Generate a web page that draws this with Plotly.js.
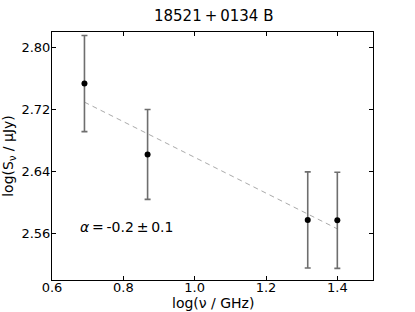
<!DOCTYPE html>
<html><head><meta charset="utf-8">
<script src="https://cdn.plot.ly/plotly-3.0.1.min.js"></script>
<style>html,body{margin:0;padding:0;background:#fff}</style>
</head><body><div id="chart" style="width:415px;height:312px"></div>
<script>
const logFreq = [0.691, 0.868, 1.317, 1.400];
const logFlux = [2.7535, 2.662, 2.5775, 2.577];
const fluxErr = [0.062, 0.058, 0.062, 0.062];
const fitX = [0.691, 1.400];
const fitY = [2.7295, 2.566];
const xTicks = [0.6, 0.8, 1.0, 1.2, 1.4];
const xTickText = ['0.6', '0.8', '1.0', '1.2', '1.4'];
const yTicks = [2.56, 2.64, 2.72, 2.80];
const yTickText = ['2.56', '2.64', '2.72', '2.80'];
const xTitle = 'log(ν / GHz)';

const fam = 'DejaVu Sans, sans-serif';
const tickFont = {family: fam, size: 13, color: '#000'};
const titleFont = {family: fam, size: 14, color: '#000'};
const traces = [
  {x: fitX, y: fitY, mode: 'lines', line: {color: '#aaaaaa', width: 1, dash: '5px,4px'}, hoverinfo: 'skip'},
  {x: logFreq, y: logFlux, mode: 'markers', marker: {color: '#000', size: 6},
   error_y: {type: 'data', array: fluxErr, visible: true, color: '#6e6e6e', thickness: 1.6, width: 3}}
];
const axisCommon = {showgrid: false, zeroline: false, showline: true, mirror: 'allticks', linecolor: '#000', linewidth: 1,
  ticks: 'inside', ticklen: 4, tickcolor: '#000', tickfont: tickFont, automargin: false};
const layout = {
  width: 415, height: 312, showlegend: false,
  margin: {l: 52, r: 42, t: 32, b: 32},
  paper_bgcolor: '#fff', plot_bgcolor: '#fff',
  title: {text: '18521\u2009+\u20090134 B', font: {family: fam, size: 15, color: '#000'}, x: 0.515, xanchor: 'center', y: 0.95, yanchor: 'middle'},
  xaxis: Object.assign({}, axisCommon, {range: [0.6, 1.5], tickvals: xTicks, ticktext: xTickText, ticklabelstandoff: -5}),
  yaxis: Object.assign({}, axisCommon, {range: [2.50, 2.82], tickvals: yTicks, ticktext: yTickText, ticklabelstandoff: -2,
    title: {text: 'log(S<sub>ν</sub> / μJy)', font: titleFont, standoff: 4}}),
  annotations: [
    {x: 0.81, y: 2.569, xref: 'x', yref: 'y', text: '<i>α</i>\u2009=\u2009-0.2\u2009±\u20090.1', showarrow: false,
     font: {family: fam, size: 14, color: '#000'}},
    {x: 0.5, y: -0.131, xref: 'paper', yref: 'paper', xanchor: 'center', yanchor: 'bottom', text: xTitle, showarrow: false,
     borderpad: 0, font: titleFont}
  ]
};
Plotly.newPlot('chart', traces, layout, {displayModeBar: false, staticPlot: true});
</script></body></html>
